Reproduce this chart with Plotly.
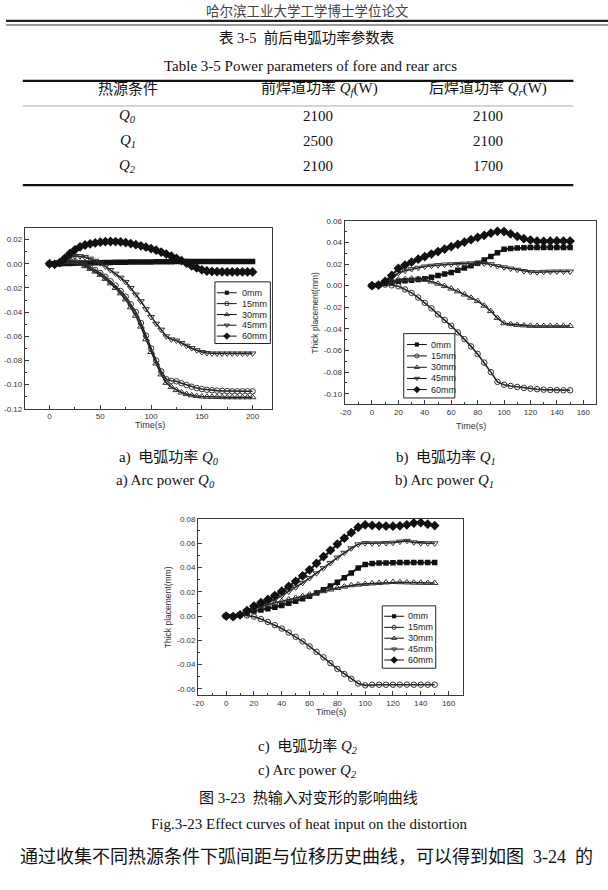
import plotly.graph_objects as go

W, H = 608, 890

# ---------------- table data ----------------
table_conditions = ["0", "1", "2"]
table_front = [2100, 2500, 2100]
table_rear = [2100, 2100, 1700]

# ---------------- curve data ----------------
series_names = ["0mm", "15mm", "30mm", "45mm", "60mm"]

time_a = list(range(0, 201, 5))
a_0mm = [0, -0.0005, 0, 0.0002, 0.0003, 0.0004, 0.0005, 0.0006, 0.0007, 0.0008,
         0.0009, 0.0010, 0.0011, 0.0012, 0.0013, 0.0013, 0.0014, 0.0014, 0.0015, 0.0015,
         0.0015, 0.0016, 0.0016, 0.0017, 0.0017, 0.0018, 0.0018, 0.0018, 0.0019, 0.0019,
         0.0019, 0.0019, 0.0019, 0.0019, 0.0019, 0.0019, 0.0019, 0.0019, 0.0019, 0.0019,
         0.0019]
a_15mm = [0, 0, 0.0010, 0.0020, 0.0025, 0.0020, 0.0008, -0.0010, -0.0030, -0.0052,
          -0.0077, -0.0108, -0.0145, -0.0180, -0.0225, -0.0272, -0.0335, -0.0400, -0.0490, -0.0595,
          -0.0700, -0.0800, -0.0890, -0.0955, -0.0968, -0.0972, -0.0988, -0.1003, -0.1017, -0.1028,
          -0.1036, -0.1042, -0.1046, -0.1049, -0.1051, -0.1053, -0.1055, -0.1055, -0.1055, -0.1055,
          -0.1055]
a_30mm = [0, 0, 0.0010, 0.0018, 0.0020, 0.0013, 0.0000, -0.0020, -0.0042, -0.0065,
          -0.0092, -0.0125, -0.0162, -0.0200, -0.0245, -0.0295, -0.0360, -0.0430, -0.0520, -0.0625,
          -0.0730, -0.0825, -0.0915, -0.0985, -0.1020, -0.1045, -0.1065, -0.1078, -0.1088, -0.1094,
          -0.1098, -0.1100, -0.1101, -0.1102, -0.1103, -0.1104, -0.1104, -0.1104, -0.1104, -0.1104,
          -0.1104]
a_45mm = [0, 0, 0.0015, 0.0035, 0.0055, 0.0065, 0.0063, 0.0055, 0.0042, 0.0025,
          0.0005, -0.0022, -0.0052, -0.0082, -0.0115, -0.0150, -0.0200, -0.0255, -0.0310, -0.0375,
          -0.0440, -0.0495, -0.0545, -0.0600, -0.0625, -0.0635, -0.0655, -0.0678, -0.0698, -0.0715,
          -0.0730, -0.0738, -0.0742, -0.0742, -0.0742, -0.0742, -0.0742, -0.0742, -0.0742, -0.0742,
          -0.0742]
a_60mm = [0, -0.0005, 0.0010, 0.0045, 0.0085, 0.0115, 0.0140, 0.0155, 0.0165, 0.0172,
          0.0178, 0.0182, 0.0184, 0.0183, 0.0180, 0.0175, 0.0167, 0.0158, 0.0148, 0.0137,
          0.0126, 0.0112, 0.0097, 0.0080, 0.0063, 0.0045, 0.0025, 0.0005, -0.0018, -0.0035,
          -0.0050, -0.0060, -0.0064, -0.0066, -0.0067, -0.0068, -0.0068, -0.0068, -0.0068, -0.0068,
          -0.0068]

time_bc = list(range(0, 151, 5))
b_0mm = [0, 0.0005, 0.0020, 0.0030, 0.0040, 0.0045, 0.0050, 0.0057, 0.0064, 0.0078,
         0.0093, 0.0108, 0.0122, 0.0142, 0.0163, 0.0185, 0.0208, 0.0238, 0.0269, 0.0305,
         0.0336, 0.0343, 0.0348, 0.0350, 0.0352, 0.0353, 0.0354, 0.0354, 0.0354, 0.0354,
         0.0354]
b_15mm = [0, 0.0003, 0.0010, 0.0003, -0.0006, -0.0035, -0.0067, -0.0110, -0.0159, -0.0210,
          -0.0266, -0.0318, -0.0372, -0.0432, -0.0495, -0.0562, -0.0632, -0.0712, -0.0800, -0.0890,
          -0.0916, -0.0928, -0.0937, -0.0946, -0.0953, -0.0958, -0.0962, -0.0965, -0.0967, -0.0968,
          -0.0968]
b_30mm = [0, 0.0005, 0.0028, 0.0045, 0.0055, 0.0060, 0.0064, 0.0062, 0.0055, 0.0038,
          0.0018, -0.0004, -0.0027, -0.0053, -0.0082, -0.0112, -0.0143, -0.0185, -0.0235, -0.0300,
          -0.0348, -0.0356, -0.0363, -0.0368, -0.0372, -0.0373, -0.0373, -0.0373, -0.0373, -0.0373,
          -0.0373]
b_45mm = [0, 0.0005, 0.0030, 0.0075, 0.0116, 0.0138, 0.0153, 0.0166, 0.0177, 0.0184,
          0.0190, 0.0195, 0.0198, 0.0201, 0.0204, 0.0207, 0.0208, 0.0205, 0.0198, 0.0180,
          0.0170, 0.0158, 0.0147, 0.0135, 0.0126, 0.0124, 0.0128, 0.0130, 0.0131, 0.0131,
          0.0131]
b_60mm = [0, 0.0005, 0.0040, 0.0095, 0.0160, 0.0190, 0.0218, 0.0245, 0.0269, 0.0292,
          0.0315, 0.0338, 0.0360, 0.0382, 0.0403, 0.0425, 0.0446, 0.0466, 0.0485, 0.0503,
          0.0500, 0.0478, 0.0455, 0.0435, 0.0422, 0.0412, 0.0410, 0.0413, 0.0414, 0.0413,
          0.0412]

c_0mm = [0, -0.0003, 0.0010, 0.0028, 0.0041, 0.0050, 0.0060, 0.0073, 0.0087, 0.0104,
         0.0122, 0.0142, 0.0163, 0.0189, 0.0217, 0.0246, 0.0277, 0.0315, 0.0353, 0.0395,
         0.0424, 0.0431, 0.0435, 0.0437, 0.0439, 0.0440, 0.0440, 0.0440, 0.0440, 0.0440,
         0.0440]
c_15mm = [0, 0, 0.0010, 0.0005, -0.0005, -0.0025, -0.0049, -0.0075, -0.0103, -0.0136,
          -0.0171, -0.0209, -0.0250, -0.0294, -0.0340, -0.0388, -0.0435, -0.0477, -0.0516, -0.0555,
          -0.0570, -0.0565, -0.0565, -0.0565, -0.0565, -0.0564, -0.0564, -0.0565, -0.0565, -0.0565,
          -0.0565]
c_30mm = [0, 0, 0.0015, 0.0040, 0.0060, 0.0078, 0.0095, 0.0109, 0.0122, 0.0136,
          0.0149, 0.0163, 0.0177, 0.0191, 0.0204, 0.0218, 0.0231, 0.0242, 0.0253, 0.0258,
          0.0264, 0.0268, 0.0272, 0.0276, 0.0280, 0.0278, 0.0276, 0.0274, 0.0273, 0.0272,
          0.0272]
c_45mm = [0, -0.0003, 0.0010, 0.0040, 0.0068, 0.0088, 0.0109, 0.0136, 0.0168, 0.0201,
          0.0236, 0.0273, 0.0312, 0.0352, 0.0394, 0.0437, 0.0481, 0.0520, 0.0557, 0.0590,
          0.0600, 0.0598, 0.0598, 0.0600, 0.0603, 0.0612, 0.0618, 0.0606, 0.0600, 0.0599,
          0.0598]
c_60mm = [0, -0.0005, 0.0010, 0.0045, 0.0082, 0.0110, 0.0136, 0.0168, 0.0204, 0.0243,
          0.0285, 0.0331, 0.0380, 0.0433, 0.0489, 0.0540, 0.0592, 0.0640, 0.0685, 0.0730,
          0.0750, 0.0745, 0.0742, 0.0740, 0.0739, 0.0742, 0.0750, 0.0765, 0.0768, 0.0755,
          0.0744]

# tick labels
xticks_a = [0, 50, 100, 150, 200]
yticks_a = [0.02, 0.0, -0.02, -0.04, -0.06, -0.08, -0.10, -0.12]
xticks_bc = [-20, 0, 20, 40, 60, 80, 100, 120, 140, 160]
yticks_b = [0.06, 0.04, 0.02, 0.0, -0.02, -0.04, -0.06, -0.08, -0.10]
yticks_c = [0.08, 0.06, 0.04, 0.02, 0.0, -0.02, -0.04, -0.06]

# ---------------- styling ----------------
SANS = "Liberation Sans, Arial, sans-serif"
SERIF = "Liberation Serif, Noto Sans CJK SC, serif"
CJK = "Noto Sans CJK SC, sans-serif"
AX = "#3a3a3a"

marker_style = {
    "0mm": dict(symbol="square", size=5.5, color="#111", line=dict(width=0)),
    "15mm": dict(symbol="circle-open", size=5.5, color="#333", line=dict(width=1)),
    "30mm": dict(symbol="triangle-up-open", size=6, color="#333", line=dict(width=1)),
    "45mm": dict(symbol="triangle-down-open", size=6, color="#333", line=dict(width=1)),
    "60mm": dict(symbol="diamond", size=7.5, color="#111", line=dict(width=0)),
}
line_width = {"0mm": 2.2, "15mm": 1.6, "30mm": 1.6, "45mm": 1.6, "60mm": 2.2}


def tick_txt(v, fmt):
    s = format(v, fmt)
    if s.startswith("-") and float(s) == 0:
        s = s[1:]
    return s


def px(x, y):
    return x / W, 1 - y / H


fig = go.Figure()

charts = [
    ("x", "y", time_a, [a_0mm, a_15mm, a_30mm, a_45mm, a_60mm]),
    ("x2", "y2", time_bc, [b_0mm, b_15mm, b_30mm, b_45mm, b_60mm]),
    ("x3", "y3", time_bc, [c_0mm, c_15mm, c_30mm, c_45mm, c_60mm]),
]
for xa, ya, t, ser in charts:
    for name, vals in zip(series_names, ser):
        fig.add_trace(go.Scatter(
            x=t, y=vals, mode="lines+markers", xaxis=xa, yaxis=ya,
            line=dict(color="#222", width=line_width[name]), marker=marker_style[name],
            showlegend=False, hoverinfo="skip"))


def axis_common():
    return dict(showline=True, linecolor=AX, linewidth=1, mirror=True,
                showgrid=False, zeroline=False, ticks="inside", ticklen=4,
                tickcolor=AX, tickwidth=1,
                tickfont=dict(family=SANS, size=8, color="#333"),
                fixedrange=True)


def xdom(l, r):
    return [l / W, r / W]


def ydom(top, bottom):
    return [1 - bottom / H, 1 - top / H]


layout_axes = {}
# chart a
layout_axes["xaxis"] = dict(axis_common(), domain=xdom(19, 269), range=[-24.4, 219.5], anchor="y",
                            tickvals=xticks_a, ticktext=[str(v) for v in xticks_a],
                            minor=dict(ticks="inside", ticklen=2, dtick=25, tickcolor=AX, tick0=0))
layout_axes["yaxis"] = dict(axis_common(), domain=ydom(226, 409), range=[-0.12, 0.0298], anchor="x",
                            tickvals=yticks_a, ticktext=[tick_txt(v, ".2f") for v in yticks_a],
                            minor=dict(ticks="inside", ticklen=2, dtick=0.01, tickcolor=AX, tick0=0))
# chart b
layout_axes["xaxis2"] = dict(axis_common(), domain=xdom(342, 596), range=[-20.7, 169.7], anchor="y2",
                             tickvals=xticks_bc, ticktext=[str(v) for v in xticks_bc],
                             minor=dict(ticks="inside", ticklen=2, dtick=10, tickcolor=AX, tick0=0))
layout_axes["yaxis2"] = dict(axis_common(), domain=ydom(219, 404), range=[-0.1094, 0.06], anchor="x2",
                             tickvals=yticks_b, ticktext=[tick_txt(v, ".2f") for v in yticks_b],
                             minor=dict(ticks="inside", ticklen=2, dtick=0.01, tickcolor=AX, tick0=0))
# chart c
layout_axes["xaxis3"] = dict(axis_common(), domain=xdom(194, 462), range=[-20.2, 170.7], anchor="y3",
                             tickvals=xticks_bc, ticktext=[str(v) for v in xticks_bc],
                             minor=dict(ticks="inside", ticklen=2, dtick=10, tickcolor=AX, tick0=0))
layout_axes["yaxis3"] = dict(axis_common(), domain=ydom(520, 698), range=[-0.0649, 0.08], anchor="x3",
                             tickvals=yticks_c, ticktext=[tick_txt(v, ".2f") for v in yticks_c],
                             minor=dict(ticks="inside", ticklen=2, dtick=0.01, tickcolor=AX, tick0=0))
# overlay pixel axis for legends
layout_axes["xaxis4"] = dict(domain=[0, 1], range=[0, W], visible=False, anchor="y4", fixedrange=True)
layout_axes["yaxis4"] = dict(domain=[0, 1], range=[H, 0], visible=False, anchor="x4", fixedrange=True)

shapes = []
annotations = []


def text(x, y, s, size, family=SERIF, color="#111", xanchor="center", angle=0):
    xx, yy = px(x, y)
    annotations.append(dict(x=xx, y=yy, xref="paper", yref="paper", text=s, showarrow=False,
                            xanchor=xanchor, yanchor="middle", textangle=angle,
                            font=dict(family=family, size=size, color=color)))


def hline(y, x0, x1, width, color="#111"):
    yy = 1 - y / H
    shapes.append(dict(type="line", xref="paper", yref="paper", x0=x0 / W, x1=x1 / W, y0=yy, y1=yy,
                       line=dict(color=color, width=width)))


# ---- page header ----
text(304, 6.5, "哈尔滨工业大学工学博士学位论文", 13.5, family=CJK, color="#444")
hline(17, 0, W, 2.2, "#222")
hline(21.2, 0, W, 1, "#333")

# ---- table ----
text(304, 34, "表 3-5  前后电弧功率参数表", 14.5)
text(308, 62.5, "Table 3-5 Power parameters of fore and rear arcs", 15)
hline(77.7, 17, 573, 2.2, "#111")
text(123, 86, "热源条件", 15)
text(317, 86, "前焊道功率 <i>Q<sub>f</sub></i>(W)", 15)
text(487, 86, "后焊道功率 <i>Q<sub>r</sub></i>(W)", 15)
hline(103, 17, 573, 1, "#aaa")
row_y = [113.5, 138.5, 164]
for ry, cond, f, r in zip(row_y, table_conditions, table_front, table_rear):
    text(123, ry, "<i>Q<sub>%s</sub></i>" % cond, 15)
    text(315, ry, str(f), 15)
    text(487, ry, str(r), 15)
hline(183, 17, 573, 2.2, "#111")

# ---- axis titles ----
text(145, 425, "Time(s)", 9, family=SANS, color="#333")
text(470, 426, "Time(s)", 9, family=SANS, color="#333")
text(312, 312, "Thick placement(mm)", 8.5, family=SANS, color="#333", angle=-90)
text(328, 715, "Time(s)", 9, family=SANS, color="#333")
text(163, 609, "Thick placement(mm)", 8.5, family=SANS, color="#333", angle=-90)

# ---- custom legends (pixel overlay axis) ----
legends = [
    dict(box=(211, 280.7, 267, 343), ys=[291.7, 302.7, 313.7, 324.5, 335.5], lx=(213, 233), tx=236),
    dict(box=(401.7, 333, 453.3, 398), ys=[344, 355.5, 367, 378.3, 389.5], lx=(405, 425), tx=427),
    dict(box=(380, 608, 434, 671), ys=[618.5, 629.7, 640.7, 651.7, 662.7], lx=(382, 402), tx=404),
]
for lg in legends:
    x0, y0, x1, y1 = lg["box"]
    shapes.append(dict(type="rect", xref="x4", yref="y4", x0=x0, y0=y0, x1=x1, y1=y1,
                       line=dict(color="#222", width=1), fillcolor="rgba(0,0,0,0)", layer="above"))
    for name, yy in zip(series_names, lg["ys"]):
        a, b = lg["lx"]
        ms = dict(marker_style[name])
        ms["size"] = ms["size"] * 0.75
        fig.add_trace(go.Scatter(x=[a, b], y=[yy, yy], mode="lines", xaxis="x4", yaxis="y4",
                                 line=dict(color="#111", width=1), showlegend=False, hoverinfo="skip"))
        fig.add_trace(go.Scatter(x=[(a + b) / 2], y=[yy], mode="markers", xaxis="x4", yaxis="y4",
                                 marker=ms, showlegend=False, hoverinfo="skip"))
        annotations.append(dict(x=lg["tx"], y=yy, xref="x4", yref="y4", text=name, showarrow=False,
                                xanchor="left", yanchor="middle",
                                font=dict(family=SANS, size=9, color="#222")))

# ---- captions ----
text(165, 458.5, "a)  电弧功率 <i>Q<sub>0</sub></i>", 15)
text(444, 458.5, "b)  电弧功率 <i>Q<sub>1</sub></i>", 15)
text(161, 481.5, "a) Arc power <i>Q<sub>0</sub></i>", 15)
text(443, 481.5, "b) Arc power <i>Q<sub>1</sub></i>", 15)
text(305, 750.5, "c)  电弧功率 <i>Q<sub>2</sub></i>", 15)
text(304, 774.5, "c) Arc power <i>Q<sub>2</sub></i>", 15)
text(306, 802.5, "图 3-23  热输入对变形的影响曲线", 15)
text(306, 828.5, "Fig.3-23 Effect curves of heat input on the distortion", 15)
text(12, 862, "通过收集不同热源条件下弧间距与位移历史曲线，可以得到如图  3-24  的", 18, xanchor="left")

fig.update_layout(
    width=W, height=H, autosize=False,
    margin=dict(l=0, r=0, t=0, b=0),
    paper_bgcolor="white", plot_bgcolor="rgba(0,0,0,0)",
    showlegend=False, shapes=shapes, annotations=annotations,
    **layout_axes,
)

fig.write_html("out.html", config={"displayModeBar": False})
